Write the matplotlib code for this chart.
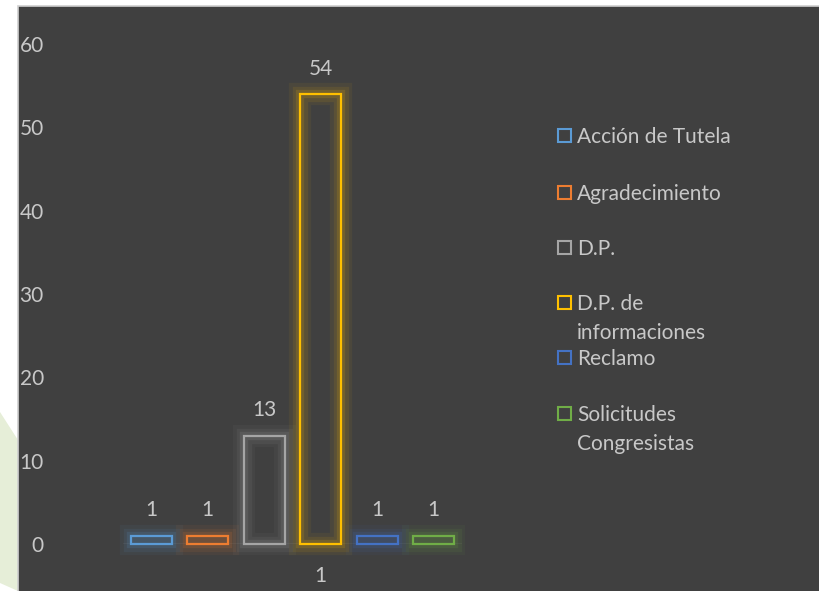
import matplotlib.pyplot as plt
import matplotlib.patheffects as pe
from matplotlib.patches import Rectangle, Polygon

# data
series = ['Acción de Tutela', 'Agradecimiento', 'D.P.', 'D.P. de\ninformaciones',
          'Reclamo', 'Solicitudes\nCongresistas']
values = [1, 1, 13, 54, 1, 1]
category = '1'
colors = ['#5B9BD5', '#ED7D31', '#A5A5A5', '#FFC000', '#4472C4', '#70AD47']

txt = '#c8c8c8'
bg = '#404040'
fs = 15
plt.rcParams['font.family'] = ['Lato', 'DejaVu Sans']

W, H = 819, 591
fig = plt.figure(figsize=(W / 100, H / 100), dpi=100, facecolor='white')

# faint green shape on the left strip
fig.patches.append(Polygon([(0, 8 / H), (18 / W, 0), (18 / W, 1 - 440 / H), (0, 1 - 412 / H)],
                           closed=True, transform=fig.transFigure,
                           facecolor='#e6eed8', edgecolor='none', zorder=0))
# dark chart area with light border
fig.patches.append(Rectangle((18 / W, -0.01), 1, 1 - 6 / H + 0.01, transform=fig.transFigure,
                             facecolor=bg, edgecolor='#cfcfcf', linewidth=1.2, zorder=1))

ax = fig.add_axes([123 / W, 1 - 544 / H, 339 / W, 500 / H])
ax.set_zorder(5)
ax.patch.set_alpha(0)
ax.set_xlim(-0.5, len(values) - 0.5)
ax.set_ylim(0, 60)
for s in ax.spines.values():
    s.set_visible(False)

ax.axhline(0, color='#4c4c4c', linewidth=1.2, zorder=1)

for i, (v, c) in enumerate(zip(values, colors)):
    bars = ax.bar(i, v, width=0.73, facecolor='none', edgecolor=c, linewidth=1.6,
                  zorder=3, clip_on=False)
    bars[0].set_path_effects([
        pe.Stroke(linewidth=16, foreground=c, alpha=0.06),
        pe.Stroke(linewidth=11, foreground=c, alpha=0.09),
        pe.Stroke(linewidth=6, foreground=c, alpha=0.14),
        pe.Normal(),
    ])
    ax.annotate(str(v), (i, v), xytext=(0, 11), textcoords='offset points',
                ha='center', va='bottom', color=txt, fontsize=fs)

ax.set_yticks(range(0, 61, 10))
ax.set_xticks([3])
ax.set_xticklabels([category])
ax.tick_params(axis='y', length=0, pad=57, labelsize=fs, labelcolor=txt)
ax.tick_params(axis='x', length=0, pad=16, labelsize=fs, labelcolor=txt)

# legend
legend_y = [135, 192, 247, 302, 357, 413]
for name, c, yy in zip(series, colors, legend_y):
    fig.patches.append(Rectangle((558 / W, 1 - (yy + 7) / H), 13 / W, 13 / H,
                                 transform=fig.transFigure, facecolor='none',
                                 edgecolor=c, linewidth=1.5, zorder=3))
    fig.text(577 / W, 1 - (yy - 8) / H, name, color=txt, fontsize=fs,
             ha='left', va='top', linespacing=1.58)

fig.savefig('out.png', dpi=100, facecolor='white')
